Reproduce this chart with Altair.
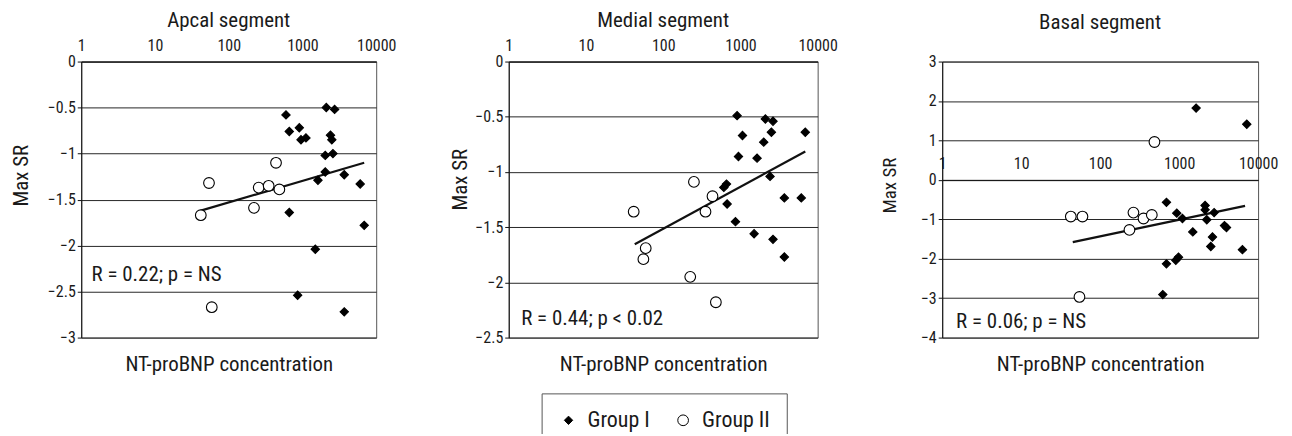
import altair as alt
import pandas as pd

FONT = "Roboto Condensed, DejaVu Sans Condensed, Liberation Sans, sans-serif"
GROUPS = ["Group I", "Group II"]
X_TICKS = [1, 10, 100, 1000, 10000]
X_TITLE = "NT-proBNP concentration"
Y_TITLE = "Max SR"

# ---------------- Apical segment ----------------
ap_title = "Apcal segment"
ap_g1_x = [598, 663, 906, 955, 1115, 2104, 2729, 2400, 2500, 2589, 2038, 2038, 1622, 3687, 6069, 6874, 663, 1493, 860, 3687]
ap_g1_y = [-0.58, -0.76, -0.72, -0.85, -0.83, -0.50, -0.52, -0.80, -0.85, -1.00, -1.02, -1.20, -1.29, -1.23, -1.33, -1.78, -1.64, -2.04, -2.54, -2.72]
ap_g2_x = [41.8, 54, 58.9, 220, 255, 348, 438, 486]
ap_g2_y = [-1.67, -1.32, -2.67, -1.59, -1.37, -1.35, -1.10, -1.39]
ap_fit_x = [41.8, 6874]
ap_fit_y = [-1.62, -1.10]
ap_label = "R = 0.22; p = NS"
ap_label_pos = [1.38, -2.32]
ap_y_domain = [-3, 0]
ap_y_ticks = [0, -0.5, -1, -1.5, -2, -2.5, -3]

# ---------------- Medial segment ----------------
me_title = "Medial segment"
me_g1_x = [906, 1063, 943, 2104, 2642, 2518, 2004, 1643, 2420, 660, 610, 673, 863, 1503, 2642, 3706, 3706, 6140, 6917]
me_g1_y = [-0.49, -0.67, -0.86, -0.52, -0.54, -0.64, -0.73, -0.875, -1.04, -1.11, -1.14, -1.29, -1.45, -1.56, -1.61, -1.235, -1.77, -1.235, -0.64]
me_g2_x = [41.5, 59.4, 55.4, 250, 224, 353, 435, 481]
me_g2_y = [-1.36, -1.69, -1.79, -1.09, -1.95, -1.36, -1.22, -2.18]
me_fit_x = [42.8, 6917]
me_fit_y = [-1.655, -0.815]
me_label = "R = 0.44; p < 0.02"
me_label_pos = [1.45, -2.33]
me_y_domain = [-2.5, 0]
me_y_ticks = [0, -0.5, -1, -1.5, -2, -2.5]

# ---------------- Basal segment ----------------
ba_title = "Basal segment"
ba_g1_x = [691, 1641, 7190, 2133, 2133, 2775, 2240, 934, 1102, 1490, 3750, 3980, 2643, 2518, 6336, 691, 908, 982, 621]
ba_g1_y = [-0.57, 1.82, 1.41, -0.65, -0.76, -0.83, -1.01, -0.845, -0.98, -1.32, -1.16, -1.21, -1.45, -1.69, -1.77, -2.13, -2.04, -1.96, -2.91]
ba_g2_x = [42.5, 59.7, 54.7, 264, 235, 354, 451, 487]
ba_g2_y = [-0.93, -0.93, -2.97, -0.83, -1.27, -0.98, -0.89, 0.96]
ba_fit_x = [45, 6840]
ba_fit_y = [-1.58, -0.66]
ba_label = "R = 0.06; p = NS"
ba_label_pos = [1.5, -3.6]
ba_y_domain = [-4, 3]
ba_y_ticks = [3, 2, 1, 0, -1, -2, -3, -4]

PLOT_H = 277
LEG_X = 462
LEG_Y = 333
TITLE_OFF = 7


def points_df(g1x, g1y, g2x, g2y):
    return pd.DataFrame({
        "x": g1x + g2x,
        "y": g1y + g2y,
        "group": [GROUPS[0]] * len(g1x) + [GROUPS[1]] * len(g2x),
    })


def panel(title, g1x, g1y, g2x, g2y, fx, fy, label, label_pos, ydom, yticks,
          width, title_offset, xaxis_offset, ytitle_x, ytitle_y, ytitle_size):
    pts = points_df(g1x, g1y, g2x, g2y)
    fit = pd.DataFrame({"x": fx, "y": fy})
    ann = pd.DataFrame({"x": [label_pos[0]], "y": [label_pos[1]], "t": [label]})

    xscale = alt.Scale(type="log", domain=[1, 10000], nice=False)
    yscale = alt.Scale(domain=ydom, nice=False, zero=False)

    yenc = alt.Y(
        "y:Q", scale=yscale,
        axis=alt.Axis(
            values=yticks, format="~g", grid=True, gridColor="#262626", gridWidth=1,
            domainColor="#111", tickColor="#111", tickSize=4, labelPadding=2,
            labelFontSize=16, labelColor="#1a1a1a", title=Y_TITLE,
            titleFontSize=ytitle_size, titleFontWeight="normal", titleColor="#1a1a1a",
            titleX=ytitle_x, titleY=ytitle_y, titleAngle=270,
            titleBaseline="middle", titleAlign="center", labelOverlap=False,
        ),
    )

    legend = alt.Legend(
        orient="none", legendX=LEG_X, legendY=LEG_Y, direction="horizontal",
        title=None, strokeColor="#555", fillColor="white", padding=16,
        labelFontSize=22, labelColor="#1a1a1a", labelOffset=8, columnPadding=22,
        symbolStrokeColor="black", symbolStrokeWidth=1,
    )

    line = alt.Chart(fit).mark_line(color="#111", strokeWidth=2.2).encode(
        x=alt.X("x:Q", scale=xscale, axis=alt.Axis(
            orient="bottom", labels=False, ticks=False, domain=False, grid=False,
            title=X_TITLE, titleFontSize=21, titleFontWeight="normal",
            titlePadding=16, titleColor="#1a1a1a")),
        y=yenc,
    )

    dots = alt.Chart(pts).mark_point(filled=True, strokeWidth=1.1, opacity=1).encode(
        x=alt.X("x:Q", scale=xscale, axis=alt.Axis(
            orient="top", values=X_TICKS, format="d", ticks=False, grid=False,
            labelPadding=8, labelFontSize=16, labelColor="#1a1a1a", domainColor="#111",
            labelFlush=False, labelOverlap=False, title=None, offset=xaxis_offset)),
        y=yenc,
        shape=alt.Shape("group:N", scale=alt.Scale(domain=GROUPS, range=["diamond", "circle"]), legend=legend),
        fill=alt.Fill("group:N", scale=alt.Scale(domain=GROUPS, range=["black", "white"]), legend=legend),
        stroke=alt.Stroke("group:N", scale=alt.Scale(domain=GROUPS, range=["black", "black"]), legend=legend),
        size=alt.Size("group:N", scale=alt.Scale(domain=GROUPS, range=[70, 115]), legend=legend),
    )

    text = alt.Chart(ann).mark_text(align="left", baseline="middle", fontSize=21, color="#1a1a1a").encode(
        x=alt.X("x:Q", scale=xscale, axis=None),
        y=yenc,
        text="t:N",
    )

    return alt.layer(line, dots, text).resolve_axis(x="independent").properties(
        width=width, height=PLOT_H,
        title=alt.TitleParams(title, fontSize=21, fontWeight="normal", anchor="middle",
                              offset=title_offset, color="#1a1a1a"),
    )


p1 = panel(ap_title, ap_g1_x, ap_g1_y, ap_g2_x, ap_g2_y, ap_fit_x, ap_fit_y, ap_label, ap_label_pos,
           ap_y_domain, ap_y_ticks, 296, TITLE_OFF, 0, -60, 114, 21)
p2 = panel(me_title, me_g1_x, me_g1_y, me_g2_x, me_g2_y, me_fit_x, me_fit_y, me_label, me_label_pos,
           me_y_domain, me_y_ticks, 310, TITLE_OFF, 0, -48, 118, 21)
p3 = panel(ba_title, ba_g1_x, ba_g1_y, ba_g2_x, ba_g2_y, ba_fit_x, ba_fit_y, ba_label, ba_label_pos,
           ba_y_domain, ba_y_ticks, 317, TITLE_OFF + 14, -PLOT_H * 3 / 7, -53, 124, 19)

inner = alt.hconcat(p1, p2, spacing=133, bounds="flush")
chart = alt.hconcat(inner, p3, spacing=41).properties(
    padding={"left": 1.5, "top": 0, "right": 5, "bottom": -15}
).configure(font=FONT).configure_view(stroke="#555", strokeWidth=1)

chart.save("out.html", embed_options={"renderer": "svg", "actions": False})
